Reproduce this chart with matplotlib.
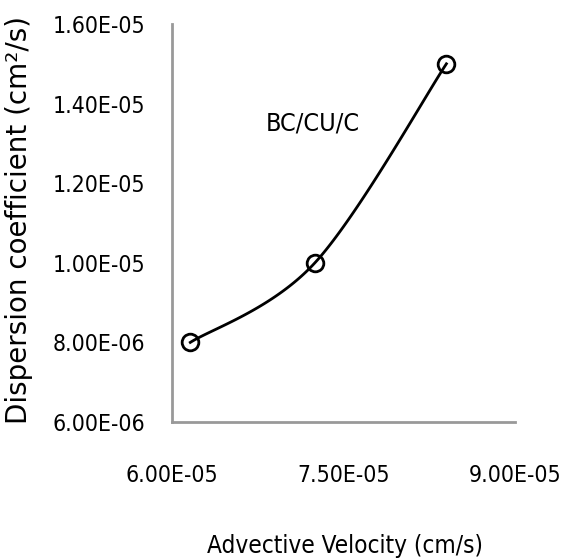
import numpy as np
import matplotlib.pyplot as plt

# valores
velocidad = [6.16e-05, 7.25e-05, 8.40e-05]
dispersion = [8.0e-06, 1.0e-05, 1.5e-05]
x_ticks = [6.0e-05, 7.5e-05, 9.0e-05]
y_ticks = [6e-06, 8e-06, 1.0e-05, 1.2e-05, 1.4e-05, 1.6e-05]
etiqueta = 'BC/CU/C'

narrow = dict(family='DejaVu Sans', stretch='condensed')


def suavizar(xs, ys, ex, ey, n=60):
    # curva suavizada tipo Excel: Catmull-Rom con extremos duplicados
    p = np.column_stack([np.asarray(xs) / ex, np.asarray(ys) / ey])
    p = np.vstack([p[0], p, p[-1]])
    out = []
    for i in range(1, len(p) - 2):
        p0, p1, p2, p3 = p[i - 1], p[i], p[i + 1], p[i + 2]
        t = np.linspace(0, 1, n)[:, None]
        seg = 0.5 * ((2 * p1) + (-p0 + p2) * t + (2 * p0 - 5 * p1 + 4 * p2 - p3) * t ** 2
                     + (-p0 + 3 * p1 - 3 * p2 + p3) * t ** 3)
        out.append(seg)
    out = np.vstack(out)
    return out[:, 0] * ex, out[:, 1] * ey


fig = plt.figure(figsize=(5.61, 5.60), dpi=100)
ax = fig.add_axes([172 / 561, 138 / 560, 343 / 561, 398 / 560])

ax.set_xlim(6.0e-05, 9.0e-05)
ax.set_ylim(6e-06, 1.6e-05)

cx, cy = suavizar(velocidad, dispersion, 3e-5 / 343, 1e-5 / 398)
ax.plot(cx, cy, color='black', lw=2)
ax.plot(velocidad, dispersion, 'o', ms=12, mfc='none', mec='black', mew=2)

ax.set_xticks(x_ticks)
ax.set_yticks(y_ticks)
ax.set_xticklabels(['%.2E' % v for v in x_ticks], fontsize=16.5, **narrow)
ax.set_yticklabels(['%.2E' % v for v in y_ticks], fontsize=16.5, **narrow)
ax.tick_params(axis='x', length=0, pad=30)
ax.tick_params(axis='y', length=0, pad=19)

for s in ['top', 'right']:
    ax.spines[s].set_visible(False)
for s in ['left', 'bottom']:
    ax.spines[s].set_color('#999999')
    ax.spines[s].set_linewidth(2)

ax.text(0.411, 0.751, etiqueta, transform=ax.transAxes, ha='center', va='center',
        fontsize=18, **narrow)

ax.set_ylabel('Dispersion coefficient (cm²/s)', family='DejaVu Sans', fontsize=20)
ax.yaxis.label.set_va('center')
ax.yaxis.set_label_coords(-0.446, 0.508)
ax.set_xlabel('Advective Velocity (cm/s)', fontsize=17.5, **narrow)
ax.xaxis.label.set_va('center')
ax.xaxis.set_label_coords(0.504, -0.312)

fig.savefig('out.png', dpi=100)
